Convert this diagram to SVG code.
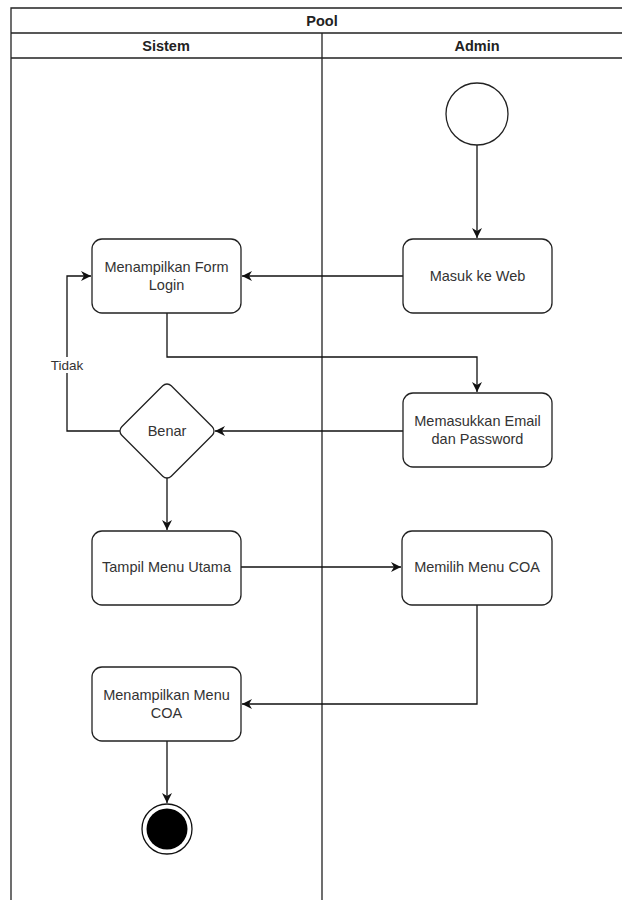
<svg xmlns="http://www.w3.org/2000/svg" width="622" height="900" viewBox="0 0 622 900">
<defs>
<marker id="arr" viewBox="0 0 10 10" refX="10" refY="5" markerWidth="10" markerHeight="10" markerUnits="userSpaceOnUse" orient="auto">
<path d="M0,0 L10,5 L0,10 L3,5 Z" fill="#111"/>
</marker>
</defs>
<style>
.lane{fill:none;stroke:#222;stroke-width:1.3}
.hdr{font-family:"Liberation Sans",Arial,sans-serif;font-size:14.5px;font-weight:bold;fill:#222;text-anchor:middle}
.node{fill:#fff;stroke:#222;stroke-width:1.3}
.lbl{font-family:"Liberation Sans",Arial,sans-serif;font-size:14.5px;fill:#333;text-anchor:middle}
.edge{fill:none;stroke:#111;stroke-width:1.3;marker-end:url(#arr)}
</style>
<rect width="622" height="900" fill="#fff"/>
<g id="pool">
<path class="lane" d="M11,900 V8 H640 M11,33 H640 M11,58 H640 M322,33 V900"/>
<text class="hdr" x="322" y="26">Pool</text>
<text class="hdr" x="166" y="51">Sistem</text>
<text class="hdr" x="477" y="51">Admin</text>
</g>
<g id="connectors">
<path class="edge" d="M477,145 V238"/>
<path class="edge" d="M403,276 H242"/>
<path class="edge" d="M167,313 V357 H477 V392"/>
<path class="edge" d="M403,431 H215"/>
<path class="edge" d="M120,431 H67 V276 H91"/>
<path class="edge" d="M167,477 V530"/>
<path class="edge" d="M241,567 H401"/>
<path class="edge" d="M477,605 V704 H242"/>
<path class="edge" d="M167,741 V803"/>
<rect x="48" y="357" width="38" height="16" fill="#fff"/>
<text class="lbl" x="67" y="370" style="font-size:13.5px">Tidak</text>
</g>
<g id="start">
<circle class="node" cx="477" cy="114" r="31"/>
</g>
<g id="masuk">
<rect class="node" x="403" y="239" width="149" height="74" rx="10"/>
<text class="lbl" x="477.5" y="281">Masuk ke Web</text>
</g>
<g id="formLogin">
<rect class="node" x="92" y="239" width="149" height="74" rx="10"/>
<text class="lbl" x="166.5" y="271.5">Menampilkan Form</text>
<text class="lbl" x="166.5" y="290">Login</text>
</g>
<g id="memasukkan">
<rect class="node" x="403" y="393" width="149" height="74" rx="10"/>
<text class="lbl" x="477.5" y="425.5">Memasukkan Email</text>
<text class="lbl" x="477.5" y="444">dan Password</text>
</g>
<g id="benar">
<rect class="node" x="132" y="396" width="70" height="70" rx="6" transform="rotate(45 167 431)"/>
<text class="lbl" x="167" y="436">Benar</text>
</g>
<g id="tampil">
<rect class="node" x="92" y="531" width="149" height="74" rx="10"/>
<text class="lbl" x="166.5" y="572">Tampil Menu Utama</text>
</g>
<g id="memilih">
<rect class="node" x="402" y="531" width="150" height="74" rx="10"/>
<text class="lbl" x="477" y="572">Memilih Menu COA</text>
</g>
<g id="menuCoa">
<rect class="node" x="92" y="667" width="149" height="74" rx="10"/>
<text class="lbl" x="166.5" y="699.5">Menampilkan Menu</text>
<text class="lbl" x="166.5" y="718">COA</text>
</g>
<g id="end">
<circle cx="167" cy="829" r="25" fill="#fff" stroke="#111" stroke-width="1.3"/>
<circle cx="167" cy="829" r="20.5" fill="#000"/>
</g>
</svg>
